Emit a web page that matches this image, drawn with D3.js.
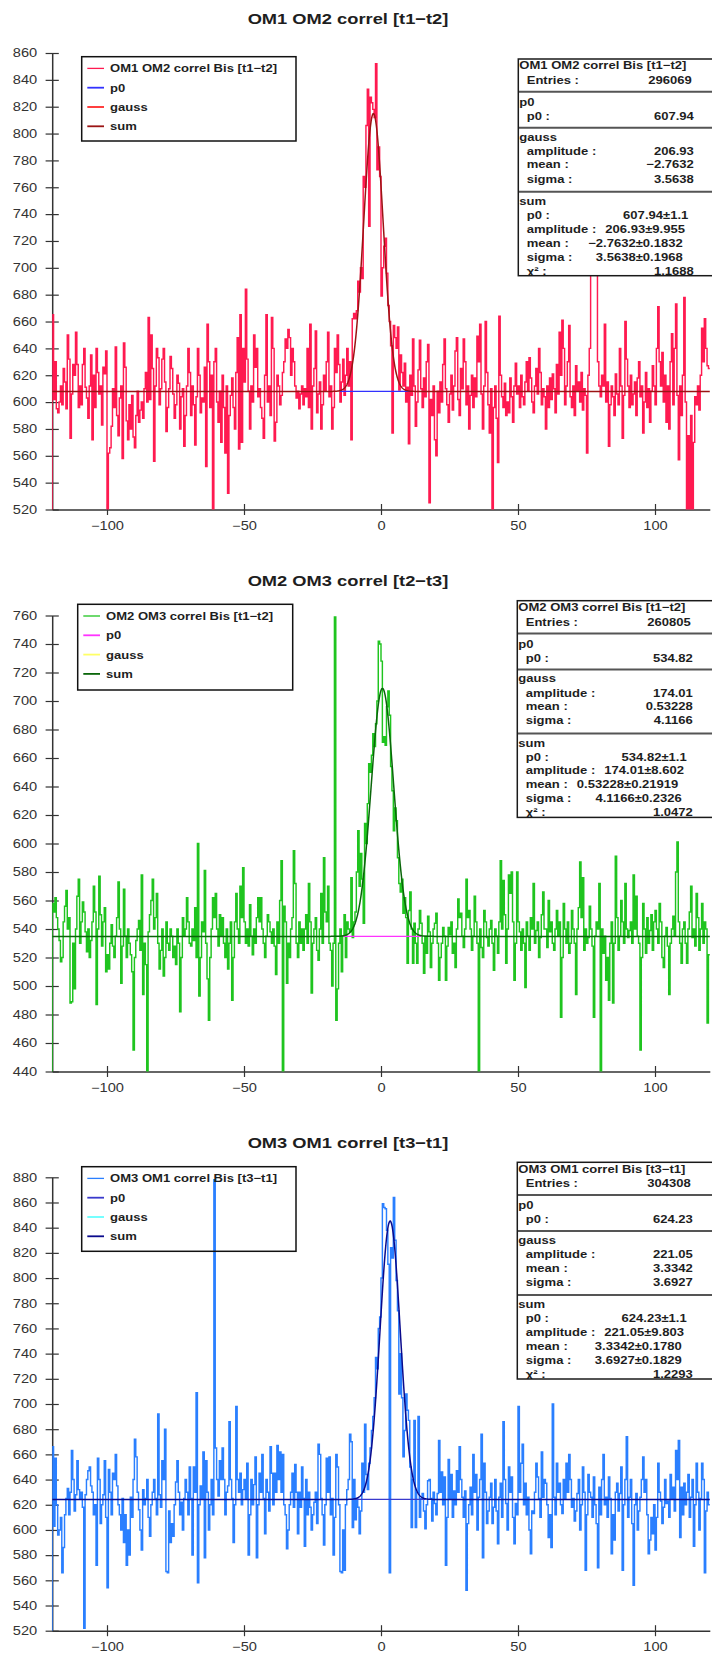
<!DOCTYPE html>
<html>
<head>
<meta charset="utf-8">
<script src="https://cdn.jsdelivr.net/npm/d3@7"></script>
<style>
  body { margin: 0; background: #fff; }
  svg { display: block; font-family: "Liberation Sans", Arial, sans-serif; }
</style>
</head>
<body>
<script>
// histogram contents, 480 bins of 0.5 from -120 to 120
const counts12 = [
  665,602,630,595,592,600,612,598,625,615,595,650,632,573,606,628,620,652,628,596,
  612,598,628,640,611,603,588,612,635,572,620,596,640,622,606,612,583,626,621,638,
  515,562,566,582,610,596,641,590,575,603,612,558,644,626,586,572,598,580,605,574,
  566,590,608,585,594,600,588,610,622,600,663,602,650,625,556,612,640,633,598,610,
  632,640,615,578,596,610,634,625,606,588,598,620,614,580,604,610,567,590,612,640,
  622,590,612,598,568,604,640,620,592,603,600,626,552,658,630,596,620,515,630,640,
  600,585,608,570,620,596,562,612,532,590,605,618,596,580,622,648,565,665,570,640,
  615,684,632,608,580,612,600,650,626,640,604,610,596,588,573,620,665,600,612,590,
  663,640,571,585,620,612,598,605,622,630,647,640,654,648,620,640,630,612,603,608,
  595,606,612,598,610,604,640,596,658,580,612,625,653,592,606,615,580,598,620,608,
  630,652,604,612,580,596,640,622,650,628,600,615,632,605,620,640,612,630,572,662,
  666,662,668,690,682,700,692,768,760,806,833,731,827,823,818,812,852,773,790,768,
  679,700,716,722,696,672,660,642,577,657,648,640,656,609,635,622,612,629,600,611,
  569,620,605,647,612,582,600,624,646,610,596,618,604,630,643,525,602,590,612,572,
  560,608,592,615,600,628,647,610,598,585,606,620,594,612,638,648,602,590,625,610,
  647,630,598,612,580,605,620,596,618,604,649,630,658,606,580,612,660,622,598,577,
  610,505,596,612,588,555,664,620,604,596,614,590,600,592,618,604,585,612,629,606,
  612,596,620,604,598,615,630,608,633,618,600,592,612,625,606,640,622,598,610,604,
  580,612,596,618,602,621,610,592,628,606,652,620,661,640,598,612,630,657,604,596,
  612,590,627,608,615,600,622,594,610,605,562,620,640,702,705,710,700,698,630,612,
  604,620,612,658,600,615,567,598,612,604,590,621,606,598,640,612,573,605,660,632,
  612,596,620,598,606,615,590,618,630,604,612,577,600,622,596,610,585,608,627,612,
  598,640,671,630,612,637,600,620,585,612,580,630,651,598,640,673,605,557,612,590,
  620,678,600,510,575,512,590,515,570,604,598,612,594,620,655,630,662,640,627,625
];
const counts23 = [
  558,552,562,548,540,532,517,520,545,556,567,540,548,488,489,530,498,540,563,575,
  530,545,559,552,538,524,540,520,532,545,570,552,487,540,577,550,528,545,555,510,
  522,512,530,543,528,520,535,548,573,540,502,528,568,535,520,540,530,522,510,455,
  520,532,540,546,525,578,494,530,515,430,538,550,560,575,540,548,565,530,512,525,
  540,507,520,545,530,525,540,535,520,528,515,540,530,482,520,548,535,540,562,545,
  530,528,540,532,555,520,600,493,520,545,538,581,530,505,476,520,540,562,548,565,
  540,528,550,535,548,530,520,540,512,530,545,490,520,545,565,540,530,570,548,583,
  545,530,540,528,557,535,522,540,530,548,562,545,562,540,530,520,535,550,545,538,
  530,540,528,508,545,530,560,588,430,556,545,502,530,520,540,548,595,572,530,520,
  545,530,540,525,540,550,530,572,545,495,530,540,548,525,518,540,565,530,590,552,
  545,570,530,525,500,530,759,476,498,530,540,510,535,550,520,545,540,538,576,534,
  545,552,580,609,570,593,575,544,614,600,628,656,650,662,677,668,684,700,742,740,
  728,671,675,669,696,707,690,654,637,609,625,616,590,572,566,575,551,562,548,516,
  553,566,540,516,544,530,516,540,553,544,530,509,535,523,549,538,513,530,540,544,
  551,530,504,520,530,541,535,504,528,541,536,545,523,530,513,540,561,548,551,535,
  527,540,575,548,553,540,525,535,563,545,530,432,540,527,520,553,545,534,528,540,
  546,530,511,540,535,523,545,588,540,574,550,516,540,578,565,580,545,504,530,580,
  545,538,525,540,530,499,545,535,525,548,540,572,530,539,545,520,534,550,566,540,
  540,527,560,538,545,530,525,540,553,535,545,478,520,558,540,530,545,523,530,553,
  540,530,494,540,555,587,548,576,525,540,530,534,556,540,528,478,535,545,540,572,
  432,540,523,535,504,520,490,530,545,488,530,591,548,525,535,560,545,530,572,540,
  534,539,545,530,578,540,563,535,530,455,520,558,540,523,548,530,539,550,525,545,
  553,540,530,558,545,520,513,535,541,528,494,530,540,549,535,580,601,545,530,516,
  540,545,530,516,540,552,570,534,540,528,565,548,525,540,558,530,545,540,474,522
];
const counts31 = [
  666,603,657,620,596,600,610,566,586,612,625,633,612,630,663,640,615,628,655,632,
  625,630,618,522,628,640,647,650,635,630,612,620,572,657,640,605,620,628,655,610,
  554,648,630,612,645,640,660,635,620,612,600,625,590,612,572,600,580,626,610,640,
  672,658,630,616,600,584,632,620,625,640,610,595,620,630,640,625,612,692,628,618,
  655,640,680,567,566,615,590,605,595,620,638,655,630,612,622,600,625,640,630,612,
  650,625,580,650,630,709,558,620,635,625,662,578,655,630,600,620,640,612,878,665,
  640,627,655,640,665,640,612,630,635,686,640,625,590,620,698,640,630,645,620,632,
  640,625,653,580,612,640,620,636,658,578,620,645,630,660,625,597,640,630,615,666,
  645,620,645,630,667,640,662,630,660,620,612,585,600,620,630,645,618,652,630,597,
  630,618,650,625,587,640,612,630,618,600,612,622,630,605,668,660,625,612,588,620,
  657,630,658,612,625,580,610,660,650,620,567,566,600,568,620,632,640,676,670,602,
  640,608,625,618,597,615,653,630,684,644,632,653,665,679,690,705,737,728,760,769,
  800,859,856,855,838,811,566,824,816,864,830,798,774,708,740,705,658,679,708,695,
  687,650,602,640,687,602,630,690,610,625,629,615,601,620,639,640,625,607,630,621,
  612,629,671,630,646,620,642,572,610,656,625,644,610,631,620,647,630,666,640,626,
  610,631,552,605,620,634,612,660,630,644,600,626,640,676,578,653,630,605,615,626,
  637,605,618,640,615,589,626,637,610,686,640,621,600,650,630,642,610,589,621,612,
  698,630,653,668,620,637,612,626,600,581,615,613,630,653,642,625,610,662,626,640,
  637,620,594,612,586,700,626,612,653,630,637,620,613,640,625,653,630,660,640,618,
  625,607,615,629,640,600,620,650,630,568,612,644,630,626,610,642,620,605,570,634,
  612,640,660,620,626,610,642,625,581,612,592,630,637,615,629,650,568,620,640,674,
  610,626,640,605,556,620,629,600,615,626,640,658,630,640,612,581,592,610,597,620,
  584,610,653,630,623,605,618,640,621,623,610,644,625,634,615,663,640,671,594,634,
  612,637,620,630,644,610,626,640,587,620,653,630,600,625,653,640,566,615,630,620
];
const binLow = -120;
const binWidth = 0.5;

const xTicks = [-100, -50, 0, 50, 100];
const yTicks12 = [520, 540, 560, 580, 600, 620, 640, 660, 680, 700, 720, 740, 760, 780, 800, 820, 840, 860];
const yTicks23 = [440, 460, 480, 500, 520, 540, 560, 580, 600, 620, 640, 660, 680, 700, 720, 740, 760];
const yTicks31 = [520, 540, 560, 580, 600, 620, 640, 660, 680, 700, 720, 740, 760, 780, 800, 820, 840, 860, 880];

// fit results (p0 + gauss), as printed in the stat boxes
const entries = ['296069', '260805', '304308'];
const fitP0 = [607.94, 534.82, 624.23];
const fitAmp = [206.93, 174.01, 221.05];
const fitMean = [-2.7632, 0.53228, 3.3342];
const fitSigma = [3.5638, 4.1166, 3.6927];
const p0Text = ['607.94', '534.82', '624.23'];
const ampText = ['206.93', '174.01', '221.05'];
const meanText = ['−2.7632', '0.53228', '3.3342'];
const sigmaText = ['3.5638', '4.1166', '3.6927'];
const p0Err = ['1.1', '1.1', '1.1'];
const ampErr = ['9.955', '8.602', '9.803'];
const meanErr = ['0.1832', '0.21919', '0.1780'];
const sigmaErr = ['0.1968', '0.2326', '0.1829'];
const chi2 = ['1.1688', '1.0472', '1.2293'];

const titles = ['OM1 OM2 correl [t1−t2]', 'OM2 OM3 correl [t2−t3]', 'OM3 OM1 correl [t3−t1]'];
const histNames = ['OM1 OM2 correl Bis [t1−t2]', 'OM2 OM3 correl Bis [t1−t2]', 'OM3 OM1 correl Bis [t3−t1]'];

const panels = [
  { counts: counts12, yTicks: yTicks12, top: 53, bottom: 509.5, titleY: 23.5,
    colors: ['#ff1a50', '#3232ff', '#ff2a2a', '#9b1414'], fitRange: [-15, 10.7],
    legend: [81.7, 56.7, 214.3, 84.3], stats: [518.3, 59], sumRight: [170, 166.7, 164.4, 164.4] },
  { counts: counts23, yTicks: yTicks23, top: 615.5, bottom: 1071.5, titleY: 586,
    colors: ['#1fc41f', '#ff33ff', '#ffff66', '#0a660a'], fitRange: [-13.8, 14.8],
    legend: [77.7, 604.3, 215, 85.7], stats: [517.3, 600.7], sumRight: [169.4, 166.7, 161, 164.4] },
  { counts: counts31, yTicks: yTicks31, top: 1177.3, bottom: 1630.7, titleY: 1148.3,
    colors: ['#2a7fff', '#3a3acc', '#66ffff', '#0a0a8c'], fitRange: [-9.6, 16.3],
    legend: [81.7, 1166.7, 214.3, 84.6], stats: [517.3, 1162.3], sumRight: [169.4, 166.7, 164.4, 164.4] }
];

const W = 712, H = 1656;
const SX = 1.22; // the original picture is stretched horizontally
const svg = d3.select('body').append('svg').attr('width', W).attr('height', H);
const x = d3.scaleLinear().domain([-120, 120]).range([52.2, 709.8]);

function label(g, px, py, str, size, bold, anchor) {
  return g.append('text')
    .attr('transform', `translate(${px},${py}) scale(${SX},1)`)
    .attr('text-anchor', anchor || 'start')
    .style('font-size', size + 'px')
    .style('font-weight', bold ? 'bold' : 'normal')
    .attr('fill', '#1e1e1e')
    .text(str);
}

panels.forEach((p, k) => {
  const y = d3.scaleLinear()
    .domain([p.yTicks[0], p.yTicks[p.yTicks.length - 1]])
    .range([p.bottom, p.top]);
  const g = svg.append('g');

  // axes
  const gy = g.append('g')
    .attr('transform', `translate(${x.range()[0]},0)`)
    .call(d3.axisLeft(y).tickValues(p.yTicks).tickSize(6.6).tickSizeOuter(0).tickPadding(8.4));
  gy.selectAll('.tick line').attr('x1', 6.6).attr('stroke', '#333').attr('stroke-width', 1.2);
  gy.selectAll('.tick text')
    .attr('x', -15 / SX).attr('transform', `scale(${SX},1)`)
    .attr('font-size', 12).attr('font-family', '"Liberation Sans", Arial, sans-serif').attr('fill', '#333');

  const gx = g.append('g')
    .attr('transform', `translate(0,${p.bottom})`)
    .call(d3.axisBottom(x).tickValues(xTicks).tickSize(5.5).tickSizeOuter(0).tickFormat(d3.format('d')));
  gx.selectAll('.tick line').attr('y1', -5.5).attr('stroke', '#333').attr('stroke-width', 1.2);
  gx.selectAll('.tick text')
    .attr('y', 20.5).attr('dy', 0).attr('transform', `scale(${SX},1)`)
    .attr('font-size', 12).attr('font-family', '"Liberation Sans", Arial, sans-serif').attr('fill', '#333');
  [gx, gy].forEach(a => a.select('.domain').attr('stroke', '#333').attr('stroke-width', 1.5));

  // histogram, clipped to the frame
  const clipId = 'frame' + k;
  svg.append('clipPath').attr('id', clipId).append('rect')
    .attr('x', x.range()[0]).attr('y', p.top - 1)
    .attr('width', W - x.range()[0]).attr('height', p.bottom - p.top + 1);
  const plot = g.append('g').attr('clip-path', `url(#${clipId})`);

  const pts = [[binLow, y.domain()[0] - 100]]
    .concat(p.counts.map((c, i) => [binLow + i * binWidth, c]))
    .concat([[binLow + p.counts.length * binWidth, p.counts[p.counts.length - 1]]]);
  plot.append('path')
    .attr('d', d3.line().x(d => x(d[0])).y(d => y(d[1])).curve(d3.curveStepAfter)(pts))
    .attr('fill', 'none').attr('stroke', p.colors[0]).attr('stroke-width', 1.45);

  // fitted functions
  plot.append('line')
    .attr('x1', x(p.fitRange[0])).attr('x2', x(p.fitRange[1]))
    .attr('y1', y(fitP0[k])).attr('y2', y(fitP0[k]))
    .attr('stroke', p.colors[1]).attr('stroke-width', 1.2);
  const sum = t => fitP0[k] + fitAmp[k] * Math.exp(-0.5 * Math.pow((t - fitMean[k]) / fitSigma[k], 2));
  plot.append('path')
    .attr('d', d3.line().x(t => x(t)).y(t => y(sum(t)))(d3.range(-120, 120.01, 0.1)))
    .attr('fill', 'none').attr('stroke', p.colors[3]).attr('stroke-width', 1.5);

  // legend
  const [lx, ly, lw, lh] = p.legend;
  const lg = g.append('g');
  lg.append('rect').attr('x', lx).attr('y', ly).attr('width', lw).attr('height', lh)
    .attr('fill', 'none').attr('stroke', '#111').attr('stroke-width', 1.5);
  [histNames[k], 'p0', 'gauss', 'sum'].forEach((name, i) => {
    const ry = ly + 11.7 + i * 19.3;
    lg.append('line').attr('x1', lx + 5.6).attr('x2', lx + 22.3).attr('y1', ry).attr('y2', ry)
      .attr('stroke', p.colors[i]).attr('stroke-width', i === 0 ? 1.3 : 1.8);
    label(lg, lx + 28.3, ry + 4, name, 10.7, true);
  });

  // stat box
  const [sx, sy] = p.stats;
  const sh = 216.7;
  const sg = g.append('g');
  const sClip = 'stats' + k;
  svg.append('clipPath').attr('id', sClip).append('rect')
    .attr('x', sx).attr('y', sy).attr('width', W - sx).attr('height', sh);
  sg.append('rect').attr('x', sx).attr('y', sy).attr('width', W - sx + 5).attr('height', sh)
    .attr('fill', '#fff');
  const st = sg.append('g').attr('clip-path', `url(#${sClip})`);
  const rows = [
    [10.3, histNames[k], null, null, true],
    [25, 'Entries :', entries[k], 173.4],
    [47, 'p0', null, null, true],
    [61, 'p0 :', p0Text[k], 175.5],
    [81.7, 'gauss', null, null, true],
    [96, 'amplitude :', ampText[k], 175.5],
    [109.3, 'mean :', meanText[k], 175.5],
    [123.7, 'sigma :', sigmaText[k], 175.5],
    [146, 'sum', null, null, true],
    [160, 'p0 :', p0Text[k] + '±' + p0Err[k], p.sumRight[0]],
    [173.7, 'amplitude :', ampText[k] + '±' + ampErr[k], p.sumRight[1]],
    [187.7, 'mean :', meanText[k] + '±' + meanErr[k], p.sumRight[2]],
    [201.7, 'sigma :', sigmaText[k] + '±' + sigmaErr[k], p.sumRight[3]],
    [215.6, 'χ² :', chi2[k], 175.5]
  ];
  rows.forEach(([dy, name, val, right, head]) => {
    label(st, sx + (head ? 1 : 8.4), sy + dy, name, 10.7, true);
    if (val) label(st, sx + right, sy + dy, val, 10.7, true, 'end');
  });
  [32.7, 68.7, 132.7].forEach(dy => {
    sg.append('line').attr('x1', sx).attr('x2', W).attr('y1', sy + dy).attr('y2', sy + dy)
      .attr('stroke', '#555').attr('stroke-width', 2);
  });
  sg.append('rect').attr('x', sx).attr('y', sy).attr('width', W - sx + 5).attr('height', sh)
    .attr('fill', 'none').attr('stroke', '#1a1a1a').attr('stroke-width', 1.5);

  // title
  label(g, 348, p.titleY, titles[k], 15, true, 'middle');
});
</script>
</body>
</html>
